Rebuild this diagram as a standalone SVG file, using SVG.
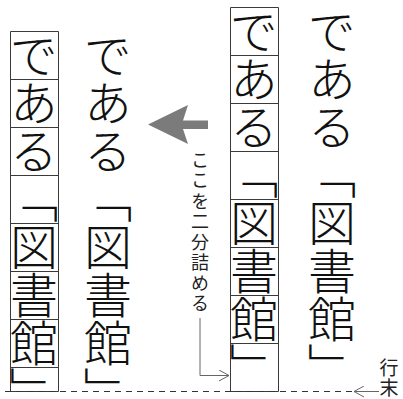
<svg xmlns="http://www.w3.org/2000/svg" width="403" height="399" viewBox="0 0 403 399">
<defs>
<style>
.big{font-family:"Noto Sans CJK JP","Noto Sans CJK SC",sans-serif;font-size:48px;font-weight:300;fill:#111;writing-mode:vertical-rl}
.lbl{font-family:"Noto Sans CJK JP","Noto Sans CJK SC",sans-serif;font-size:18px;fill:#222;writing-mode:vertical-rl}
.cell{fill:none;stroke:#3a3a3a;stroke-width:1}
.conn{fill:none;stroke:#666;stroke-width:1}
.dash{fill:none;stroke:#333;stroke-width:1.2;stroke-dasharray:6 5}
</style>
<marker id="open" markerWidth="12" markerHeight="12" refX="10" refY="6" orient="auto" markerUnits="userSpaceOnUse">
<path d="M0,0.5 L10,6 L0,11.5" fill="none" stroke="#666" stroke-width="1"/>
</marker>
</defs>
<rect width="403" height="399" fill="#fff"/>

<g id="col-after-boxed">
<path class="cell" d="M10.5,31.5 H58.5 V391.5 H10.5 Z M10.5,79.5 H58.5 M10.5,127.5 H58.5 M10.5,175.5 H58.5 M10.5,223.5 H58.5 M10.5,271.5 H58.5 M10.5,319.5 H58.5 M10.5,367.5 H58.5"/>
<text class="big" x="34" y="31">である「図書館」</text>
</g>

<g id="col-after-plain">
<text class="big" x="108" y="31">である「図書館」</text>
</g>

<g id="col-before-boxed">
<path class="cell" d="M230.5,7.5 H278.5 V391.5 H230.5 Z M230.5,55.5 H278.5 M230.5,103.5 H278.5 M230.5,151.5 H278.5 M230.5,199.5 H278.5 M230.5,247.5 H278.5 M230.5,295.5 H278.5 M230.5,343.5 H278.5"/>
<text class="big" x="254" y="7">である「図書館」</text>
</g>

<g id="col-before-plain">
<text class="big" x="332" y="7">である「図書館」</text>
</g>

<g id="big-arrow">
<polygon points="148,124.5 188,105 183,120.5 208,120.5 208,129 183,129 188,144" fill="#7b7b7b"/>
</g>

<g id="label-compress">
<text class="lbl" x="200" y="151" style="letter-spacing:2.5px">ここを二分詰める</text>
</g>

<g id="label-gyoumatsu">
<text class="lbl" x="389" y="358" style="font-size:19px;letter-spacing:1px">行末</text>
</g>

<g id="connectors">
<path class="dash" d="M5,391.5 H352"/>
<path class="conn" d="M200,318 V375.5 H229" marker-end="url(#open)"/>
<path class="conn" d="M379,391.5 H354" marker-end="url(#open)"/>
</g>
</svg>
